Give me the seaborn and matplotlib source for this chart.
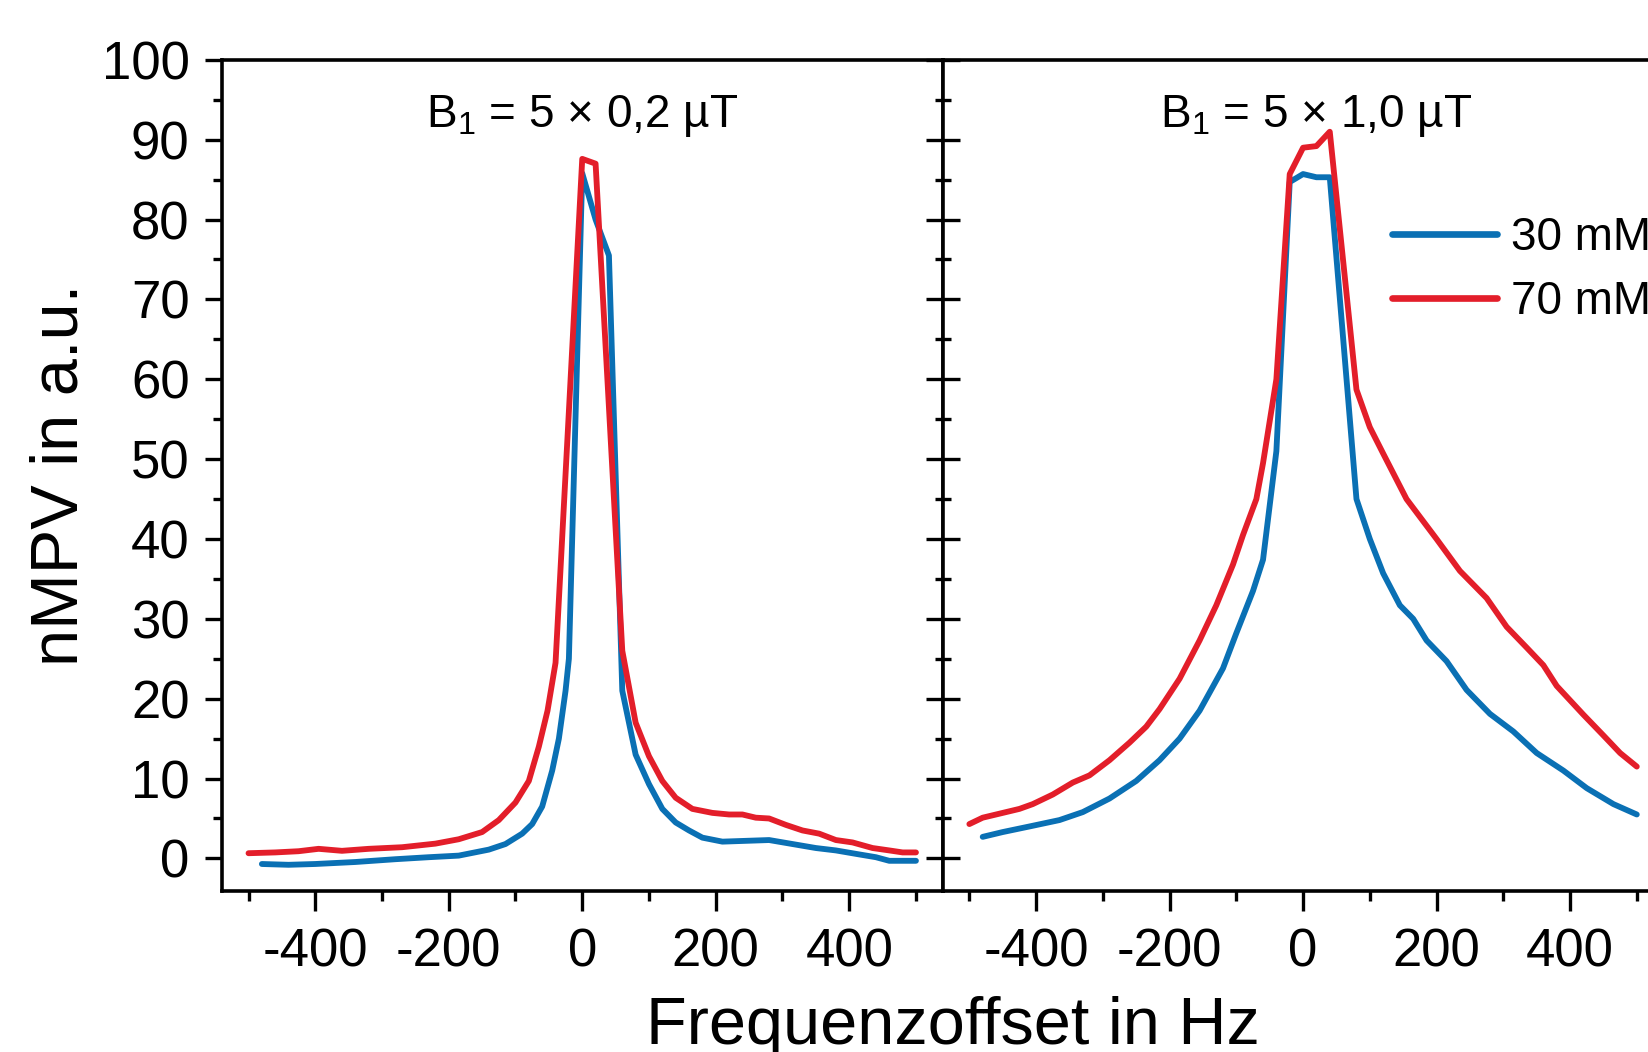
import matplotlib
matplotlib.use("Agg")
import matplotlib.pyplot as plt
from matplotlib.ticker import MultipleLocator
import seaborn as sns
import pandas as pd

# ---- data ---------------------------------------------------------------
conc_labels = ["30 mM", "70 mM"]
panel_titles = ["B$_\\mathregular{1}$ = 5 × 0,2 µT", "B$_\\mathregular{1}$ = 5 × 1,0 µT"]

# left panel, B1 = 5 x 0,2 uT
hz_low_30 = [-480, -440, -400, -340, -280, -230, -185, -140, -115, -90, -75, -60, -45, -35,
             -25, -20, 0, 20, 40, 60, 80, 100, 120, 140, 160, 180, 210, 245, 280, 315,
             350, 380, 415, 440, 460, 480, 500]
mpv_low_30 = [-0.7, -0.8, -0.7, -0.45, -0.1, 0.15, 0.35, 1.1, 1.8, 3.1, 4.3, 6.5, 11, 15,
              21, 25, 85.8, 80, 75.5, 21, 13, 9.3, 6.2, 4.5, 3.5, 2.6, 2.1, 2.2, 2.3, 1.8,
              1.3, 1.0, 0.5, 0.15, -0.3, -0.3, -0.3]
hz_low_70 = [-500, -460, -425, -395, -360, -320, -270, -220, -185, -150, -125, -100, -80,
             -65, -52, -40, -20, 0, 20, 60, 80, 100, 120, 140, 165, 195, 220, 240, 260,
             280, 305, 330, 355, 380, 405, 435, 460, 480, 500]
mpv_low_70 = [0.65, 0.75, 0.9, 1.2, 0.95, 1.2, 1.4, 1.85, 2.4, 3.3, 4.8, 7, 9.7,
              14, 18.5, 24.5, 56, 87.6, 87, 26, 17, 12.8, 9.7, 7.6, 6.2, 5.7, 5.5, 5.5, 5.1,
              5.0, 4.2, 3.5, 3.1, 2.3, 2.0, 1.3, 1.0, 0.75, 0.75]

# right panel, B1 = 5 x 1,0 uT
hz_high_30 = [-480, -450, -410, -365, -330, -290, -250, -215, -185, -155, -120, -100, -75,
              -60, -40, -20, 0, 20, 40, 80, 100, 120, 145, 165, 185, 215, 245, 280, 315,
              350, 390, 425, 465, 500]
mpv_high_30 = [2.7, 3.3, 4.0, 4.8, 5.8, 7.5, 9.7, 12.3, 15, 18.5, 23.8, 28.2, 33.5,
               37.4, 51, 84.7, 85.7, 85.3, 85.3, 45, 40, 35.7, 31.7, 30, 27.3, 24.7, 21.1,
               18.1, 15.9, 13.2, 11, 8.8, 6.8, 5.5]
hz_high_70 = [-500, -480, -450, -425, -405, -375, -345, -320, -290, -260, -235, -215, -185,
              -155, -130, -105, -90, -70, -60, -40, -20, 0, 20, 40, 80, 100, 120, 155, 200,
              235, 275, 305, 335, 360, 380, 420, 450, 475, 500]
mpv_high_70 = [4.3, 5.1, 5.7, 6.2, 6.8, 8.0, 9.5, 10.4, 12.3, 14.5, 16.5, 18.7, 22.5,
               27.3, 31.7, 36.8, 40.5, 45, 49.5, 60, 85.7, 89, 89.2, 91, 58.7, 54, 50.7, 45,
               40, 36, 32.6, 29, 26.4, 24.2, 21.6, 18, 15.4, 13.2, 11.5]

frames = []
for panel, conc, hz, mpv in [(0, conc_labels[0], hz_low_30, mpv_low_30),
                             (0, conc_labels[1], hz_low_70, mpv_low_70),
                             (1, conc_labels[0], hz_high_30, mpv_high_30),
                             (1, conc_labels[1], hz_high_70, mpv_high_70)]:
    frames.append(pd.DataFrame({"Hz": hz, "nMPV": mpv, "conc": conc, "panel": panel}))
df = pd.concat(frames, ignore_index=True)

# ---- style ---------------------------------------------------------------
sns.set_style("ticks")
plt.rcParams["font.family"] = ["Liberation Sans", "DejaVu Sans"]
plt.rcParams["axes.unicode_minus"] = False
for key in ["text.color", "axes.labelcolor", "xtick.color", "ytick.color", "axes.edgecolor"]:
    plt.rcParams[key] = "black"
palette = {"30 mM": "#0a70b4", "70 mM": "#e31e2a"}
LW = 4.2

fig = plt.figure(figsize=(16.48, 10.52), dpi=100)
ax_l = fig.add_axes([0.1346, 0.1529, 0.4374, 0.7902])
ax_r = fig.add_axes([0.5720, 0.1529, 0.4374, 0.7902])

for i, ax in enumerate([ax_l, ax_r]):
    sub = df[df["panel"] == i]
    sns.lineplot(data=sub, x="Hz", y="nMPV", hue="conc", palette=palette, ax=ax,
                 sort=False, estimator=None, legend=(i == 1), lw=LW)
    for line in ax.get_lines():
        line.set_linewidth(LW)
        line.set_solid_capstyle("round")
        line.set_solid_joinstyle("round")
    ax.set_xlim(-540, 540)
    ax.set_ylim(-4.1, 100)
    ax.set_xlabel("")
    ax.set_ylabel("")
    ax.xaxis.set_major_locator(MultipleLocator(200))
    ax.xaxis.set_minor_locator(MultipleLocator(100))
    ax.yaxis.set_major_locator(MultipleLocator(10))
    ax.yaxis.set_minor_locator(MultipleLocator(5))
    for s in ax.spines.values():
        s.set_visible(True)
        s.set_color("black")
        s.set_linewidth(2.6)
    ax.tick_params(axis="x", which="major", direction="out", length=14.5, width=2.4,
                   labelsize=38, pad=12, color="black", labelcolor="black")
    ax.tick_params(axis="x", which="minor", direction="out", length=7.2, width=2.4,
                   color="black")
    ax.text(0 if i == 0 else 20, 91.6, panel_titles[i], ha="center", va="baseline",
            fontsize=33, color="black")

ax_l.tick_params(axis="y", which="major", direction="out", length=12.2, width=2.4,
                 labelsize=38, pad=11, right=False, labelcolor="black")
ax_l.tick_params(axis="y", which="minor", direction="out", length=6.5, width=2.4, right=False)
ax_r.tick_params(axis="y", which="major", direction="inout", length=25, width=2.4,
                 labelleft=False)
ax_r.tick_params(axis="y", which="minor", direction="inout", length=11.7, width=2.4)

handles, labels = ax_r.get_legend_handles_labels()
leg = ax_r.legend(handles, labels, loc="upper left", bbox_to_anchor=(0.623, 0.812),
                  frameon=False, fontsize=33, handlelength=2.3, handletextpad=0.3,
                  labelspacing=0.43, borderpad=0, borderaxespad=0, labelcolor="black")
for h in leg.get_lines():
    h.set_linewidth(LW + 0.6)
    h.set_solid_capstyle("round")

fig.text(0.037, 0.549, "nMPV in a.u.", rotation=90, ha="center", va="center", fontsize=48)
fig.text(0.578, 0.008, "Frequenzoffset in Hz", ha="center", va="baseline", fontsize=48)

fig.savefig("out.png", dpi=100)
